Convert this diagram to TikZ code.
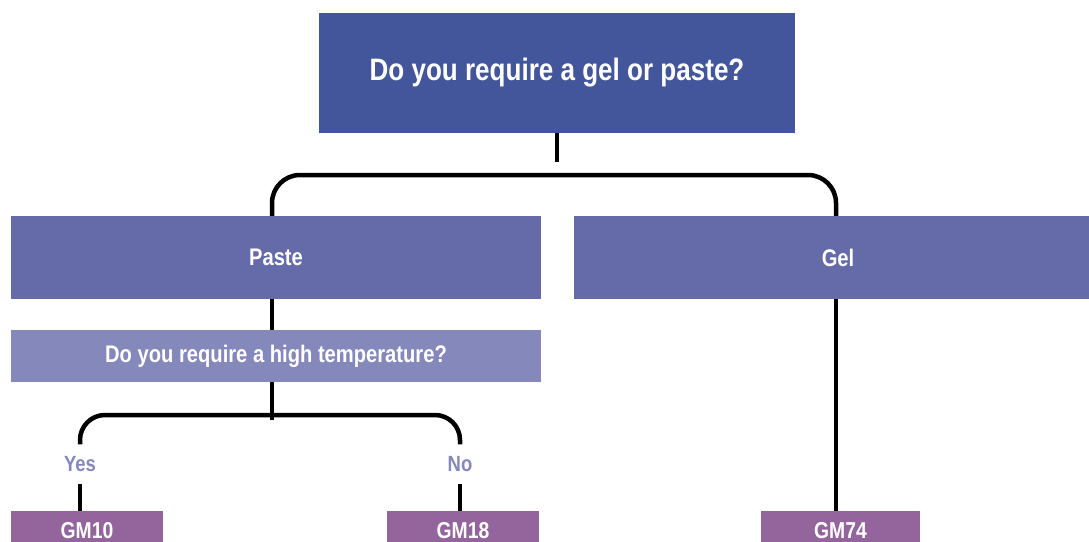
\documentclass[tikz,border=0pt]{standalone}
\usepackage{fontspec}
\setmainfont[FakeStretch=0.84]{Liberation Sans}
\definecolor{cTop}{HTML}{43569B}
\definecolor{cMid}{HTML}{646BA8}
\definecolor{cLight}{HTML}{8488BA}
\definecolor{cGM}{HTML}{94659C}
\begin{document}
\begin{tikzpicture}[x=1pt,y=-1pt,
  box/.style={rectangle, inner sep=0pt, text=white, font=\bfseries},
  conn/.style={draw=black, line width=4.5pt},
  answer/.style={inner sep=0pt, outer sep=12pt, text=cLight, font=\bfseries\fontsize{22}{25}\selectfont}]
\useasboundingbox (0,0) rectangle (1089,541);
\node[box, fill=cTop, minimum width=476pt, minimum height=120pt, font=\bfseries\fontsize{31}{35}\selectfont] (top) at (557,73) {\raisebox{-2pt}{Do you require a gel or paste?}};
\node[box, fill=cMid, minimum width=530pt, minimum height=83pt, font=\bfseries\fontsize{24}{27}\selectfont] (paste) at (276,257.5) {Paste};
\node[box, fill=cMid, minimum width=515pt, minimum height=83pt, font=\bfseries\fontsize{24}{27}\selectfont] (gel) at (831.5,257.5) {\hspace*{13pt}Gel};
\node[box, fill=cLight, minimum width=530pt, minimum height=52pt, font=\bfseries\fontsize{24}{27}\selectfont] (hot) at (276,356) {Do you require a high temperature?};
\node[box, fill=cGM, minimum width=152pt, minimum height=40pt, font=\bfseries\fontsize{23}{26}\selectfont] (gm10) at (87,531) {GM10};
\node[box, fill=cGM, minimum width=152pt, minimum height=40pt, font=\bfseries\fontsize{23}{26}\selectfont] (gm18) at (463,531) {GM18};
\node[box, fill=cGM, minimum width=159pt, minimum height=40pt, font=\bfseries\fontsize{23}{26}\selectfont] (gm74) at (840.5,531) {GM74};
\node[answer] (yes) at (80,464) {Yes};
\node[answer] (no) at (460,464) {No};
\coordinate (topj) at (557,162);
\coordinate (br1) at (557,175);
\coordinate (hotj) at (272,420);
\coordinate (br2) at (272,415);
\draw[conn] (top.south) -- (topj);
\draw[conn, rounded corners=28pt] ([xshift=-4pt]paste.north) |- (br1) -| ([xshift=4.5pt]gel.north);
\draw[conn] ([xshift=-4pt]paste.south) -- ([xshift=-4pt]hot.north);
\draw[conn] ([xshift=-4pt]hot.south) -- (hotj);
\draw[conn, rounded corners=25pt] (yes.north) |- (br2) -| (no.north);
\draw[conn] (yes.south) -- (yes.south |- gm10.north);
\draw[conn] (no.south) -- (no.south |- gm18.north);
\draw[conn] ([xshift=4.5pt]gel.south) -- ([xshift=4.5pt]gel.south |- gm74.north);
\end{tikzpicture}
\end{document}
